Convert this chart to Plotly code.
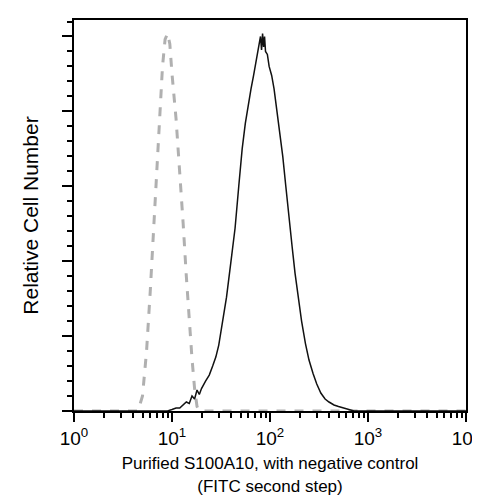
import plotly.graph_objects as go

# negative control (dashed grey)
ctrl_x = [1, 4.5, 5, 5.5, 6, 6.5, 7, 7.5, 8, 8.5, 9, 9.5, 10, 11, 12, 13, 14, 15, 16, 17, 18, 19, 10000]
ctrl_y = [0, 0, 10, 40, 80, 120, 160, 200, 230, 248, 252, 245, 225, 195, 160, 125, 90, 60, 35, 15, 3, 0, 0]

# S100A10 stained sample (black)
s_x = [1, 9, 10, 11, 12, 13, 14, 15, 16, 17, 18, 19, 20, 22, 24, 26, 28, 30, 33, 36, 40, 44, 48, 52, 56, 60,
       64, 68, 72, 75, 78, 80, 82, 84, 86, 88, 90, 94, 98, 104, 110, 118, 126, 135, 145, 155, 168, 180, 195,
       210, 230, 250, 275, 300, 330, 365, 400, 450, 500, 560, 640, 720, 10000]
s_y = [0, 0, 1, 2, 2, 4, 6, 5, 10, 8, 14, 11, 15, 20, 24, 30, 36, 44, 60, 76, 100, 122, 150, 175, 192, 205,
       215, 224, 233, 238, 244, 250, 241, 252, 243, 250, 240, 238, 230, 224, 215, 200, 188, 170, 150, 130, 110,
       92, 75, 60, 45, 34, 25, 18, 12, 8, 6, 4, 3, 2, 1, 0, 0]

x_major = [1, 10, 100, 1000, 10000]
x_labels = ["10<sup>0</sup>", "10<sup>1</sup>", "10<sup>2</sup>", "10<sup>3</sup>", "10<sup>4</sup>"]
x_minor = [m * d for d in [1, 10, 100, 1000] for m in range(2, 10)]
y_major = [0, 50, 100, 150, 200, 250]

fig = go.Figure()
fig.add_trace(go.Scatter(x=ctrl_x, y=ctrl_y, mode="lines",
                         line=dict(color="#b0b0b0", width=3, dash="dash")))
fig.add_trace(go.Scatter(x=s_x, y=s_y, mode="lines",
                         line=dict(color="#111111", width=1.5)))

fig.update_xaxes(type="log", range=[0, 4], tickvals=x_major, ticktext=x_labels,
                 ticks="outside", ticklen=9, tickwidth=2, tickcolor="black",
                 minor=dict(tickvals=x_minor, ticks="outside", ticklen=5, tickcolor="black"),
                 showline=True, linecolor="black", linewidth=1.5, mirror=True,
                 showgrid=False, zeroline=False, automargin=False,
                 tickfont=dict(size=19, color="black"),
                 title=dict(text="Purified S100A10, with negative control<br>(FITC second step)",
                            font=dict(size=17, color="black"), standoff=10))
fig.update_yaxes(range=[0, 261], tickvals=y_major, showticklabels=False,
                 ticks="outside", ticklen=10, tickwidth=2, tickcolor="black",
                 minor=dict(dtick=10, ticks="outside", ticklen=5, tickcolor="black"),
                 showline=True, linecolor="black", linewidth=1.5, mirror=True,
                 showgrid=False, zeroline=False, automargin=False,
                 title=dict(text="Relative Cell Number", font=dict(size=21, color="black"), standoff=18))
fig.update_layout(width=480, height=502, showlegend=False,
                  margin=dict(l=66, r=22, t=12, b=99),
                  plot_bgcolor="white", paper_bgcolor="white",
                  font=dict(family="Liberation Sans, Arial, sans-serif"))
fig.write_html("out.html")
